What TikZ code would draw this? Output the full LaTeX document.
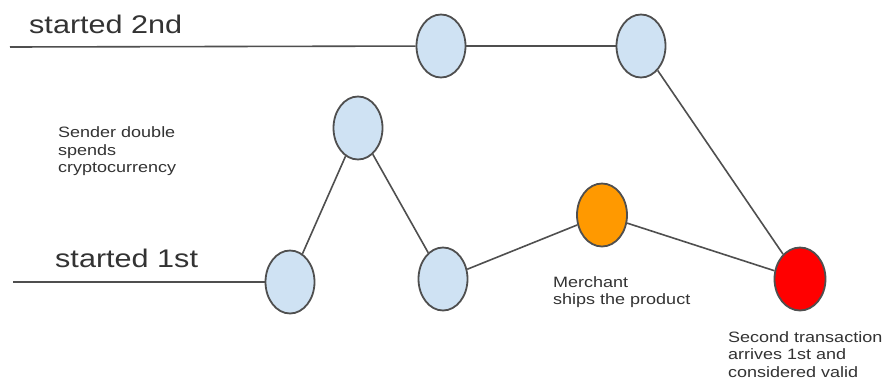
\documentclass[tikz,border=0pt]{standalone}
\usepackage{fontspec}
\setmainfont{Liberation Sans}
\newfontfamily\wide[FakeStretch=1.2]{Liberation Sans}
\usetikzlibrary{shapes.geometric}
\definecolor{nodeblue}{HTML}{CFE2F3}
\definecolor{edgegray}{HTML}{4F4F4F}
\definecolor{txtgray}{HTML}{333333}
\definecolor{orng}{HTML}{FF9900}
\definecolor{rd}{HTML}{FF0000}
\begin{document}
\begin{tikzpicture}[x=1pt,y=-1pt,
  blk/.style={ellipse,draw=edgegray,line width=1.8pt,fill=nodeblue,minimum width=49pt,minimum height=63pt,inner sep=0pt},
  conn/.style={draw=edgegray,line width=1.6pt},
  big/.style={font=\wide\fontsize{25.5}{28}\selectfont,text=txtgray,inner sep=0pt,anchor=base west},
  small/.style={font=\wide\fontsize{15}{17.5}\selectfont,text=txtgray,inner sep=0pt,anchor=north west,align=left}]
\useasboundingbox[fill=white] (0,0) rectangle (884,383);
% nodes
\node[blk] (a) at (441,46) {};
\node[blk] (b) at (641,46) {};
\node[blk] (s) at (358,128) {};
\node[blk] (c) at (290,282) {};
\node[blk] (d) at (443,279) {};
\node[blk,fill=orng,minimum width=50pt] (o) at (602,215) {};
\node[blk,fill=rd,minimum width=51pt] (r) at (800,279) {};
\coordinate (top0) at (10,47);
\coordinate (bot0) at (13,282);
% connectors
\draw[conn] (top0) -- (a);
\draw[conn] (a) -- (b);
\draw[conn] (b) -- (r);
\draw[conn] (bot0) -- (c);
\draw[conn] (c) -- (s);
\draw[conn] (s) -- (d);
\draw[conn] (d) -- (o);
\draw[conn] (o) -- (r);
% labels
\node[big] (l2) at (29,33) {started 2nd};
\node[big] (l1) at (55,267) {started 1st};
\node[small] (ls) at (58,126.5) {Sender double\\spends\\cryptocurrency};
\node[small] (lm) at (553,276) {Merchant\\ships the product};
\node[small] (lr) at (728,331) {Second transaction\\arrives 1st and\\considered valid};
\end{tikzpicture}
\end{document}
